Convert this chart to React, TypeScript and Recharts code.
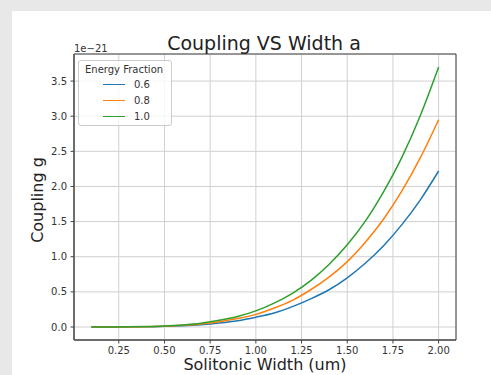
import React from 'react';
import { LineChart, Line, XAxis, YAxis, CartesianGrid, Legend, ReferenceArea } from 'recharts';

// Solitonic width a (um)
const widths = [0.1, 0.2, 0.3, 0.4, 0.5, 0.6, 0.7, 0.8, 0.9, 1.0, 1.1, 1.2, 1.3, 1.4, 1.5, 1.6, 1.7, 1.8, 1.9, 2.0];
// Coupling g (x 1e-21) per energy fraction
const coupling06 = [0, 0.0002, 0.001, 0.004, 0.009, 0.018, 0.033, 0.057, 0.09, 0.14, 0.2, 0.29, 0.4, 0.53, 0.7, 0.91, 1.16, 1.46, 1.81, 2.22];
const coupling08 = [0, 0.0003, 0.0015, 0.005, 0.012, 0.024, 0.044, 0.076, 0.12, 0.18, 0.27, 0.38, 0.53, 0.71, 0.93, 1.21, 1.54, 1.94, 2.41, 2.95];
const coupling10 = [0, 0.0004, 0.002, 0.006, 0.014, 0.03, 0.055, 0.095, 0.15, 0.23, 0.34, 0.48, 0.66, 0.89, 1.17, 1.51, 1.93, 2.42, 3.01, 3.7];

const seriesNames = ['0.6', '0.8', '1.0'];
const seriesColors = ['#1f77b4', '#ff7f0e', '#2ca02c'];
const xTicks = [0.25, 0.5, 0.75, 1.0, 1.25, 1.5, 1.75, 2.0];
const yTicks = [0, 0.5, 1.0, 1.5, 2.0, 2.5, 3.0, 3.5];
const xDomain = [0.005, 2.095];
const yDomain = [-0.185, 3.885];

const data = widths.map((x, i) => ({ x, g06: coupling06[i], g08: coupling08[i], g10: coupling10[i] }));
const keys = ['g06', 'g08', 'g10'];

const FONT = 'DejaVu Sans, sans-serif';
const AXIS = '#444444';

const LegendBox = () => (
  <div
    style={{
      width: 94,
      height: 66,
      boxSizing: 'border-box',
      border: '1px solid #cccccc',
      borderRadius: 3,
      background: 'rgba(255,255,255,0.8)',
      fontFamily: FONT,
      fontSize: 10,
      color: '#333',
      position: 'relative',
    }}
  >
    <div style={{ position: 'absolute', left: 6, top: 3, lineHeight: '12px', whiteSpace: 'nowrap' }}>Energy Fraction</div>
    {seriesNames.map((n, i) => (
      <div key={n} style={{ position: 'absolute', left: 0, top: 18 + i * 16, height: 12, width: 94 }}>
        <div style={{ position: 'absolute', left: 24, top: 5, width: 22, height: 0, borderTop: `1.5px solid ${seriesColors[i]}` }} />
        <div style={{ position: 'absolute', left: 55, top: 0, lineHeight: '12px' }}>{n}</div>
      </div>
    ))}
  </div>
);

export default function App() {
  return (
    <div style={{ position: 'fixed', left: 0, top: 0, width: 491, height: 375, background: '#e8e8e8', overflow: 'hidden' }}>
      <div style={{ position: 'absolute', left: 12, top: 11, right: 0, bottom: 0, background: '#ffffff' }} />
      <div style={{ position: 'absolute', left: 0, top: 0 }}>
        <LineChart width={491} height={375} data={data} margin={{ top: 54, right: 35, left: 0, bottom: 0 }}>
          <CartesianGrid stroke="#d0d0d0" strokeWidth={1} />
          <XAxis
            dataKey="x"
            type="number"
            domain={xDomain}
            allowDataOverflow
            ticks={xTicks}
            tickFormatter={(v: number) => v.toFixed(2)}
            height={35}
            tickSize={3.5}
            tickMargin={3.5}
            axisLine={{ stroke: AXIS }}
            tickLine={{ stroke: AXIS }}
            tick={{ fontSize: 10, fill: '#333', fontFamily: FONT }}
          />
          <YAxis
            type="number"
            domain={yDomain}
            allowDataOverflow
            ticks={yTicks}
            tickFormatter={(v: number) => v.toFixed(1)}
            width={74}
            tickSize={3.5}
            tickMargin={3.5}
            axisLine={{ stroke: AXIS }}
            tickLine={{ stroke: AXIS }}
            tick={{ fontSize: 10, fill: '#333', fontFamily: FONT }}
          />
          {keys.map((k, i) => (
            <Line
              key={k}
              dataKey={k}
              name={seriesNames[i]}
              stroke={seriesColors[i]}
              strokeWidth={1.5}
              dot={false}
              type="monotone"
              isAnimationActive={false}
            />
          ))}
          <ReferenceArea x1={xDomain[0]} x2={xDomain[1]} y1={yDomain[0]} y2={yDomain[1]} fill="none" stroke={AXIS} strokeWidth={1} ifOverflow="visible" />
          <Legend
            layout="vertical"
            align="center"
            verticalAlign="middle"
            content={() => <LegendBox />}
            wrapperStyle={{ position: 'absolute', left: 78, top: 60, width: 94, height: 66 }}
          />
        </LineChart>
      </div>
      <svg width={491} height={375} style={{ position: 'absolute', left: 0, top: 0, pointerEvents: 'none' }}>
        <text x={264} y={50} textAnchor="middle" fontFamily={FONT} fontSize={19} fill="#222">Coupling VS Width a</text>
        <text x={74} y={52} textAnchor="start" fontFamily={FONT} fontSize={10} fill="#333">1e−21</text>
        <text x={265} y={370} textAnchor="middle" fontFamily={FONT} fontSize={16} fill="#222">Solitonic Width (um)</text>
        <text x={43} y={200} textAnchor="middle" fontFamily={FONT} fontSize={16} fill="#222" transform="rotate(-90 43 200)">Coupling g</text>
      </svg>
    </div>
  );
}
